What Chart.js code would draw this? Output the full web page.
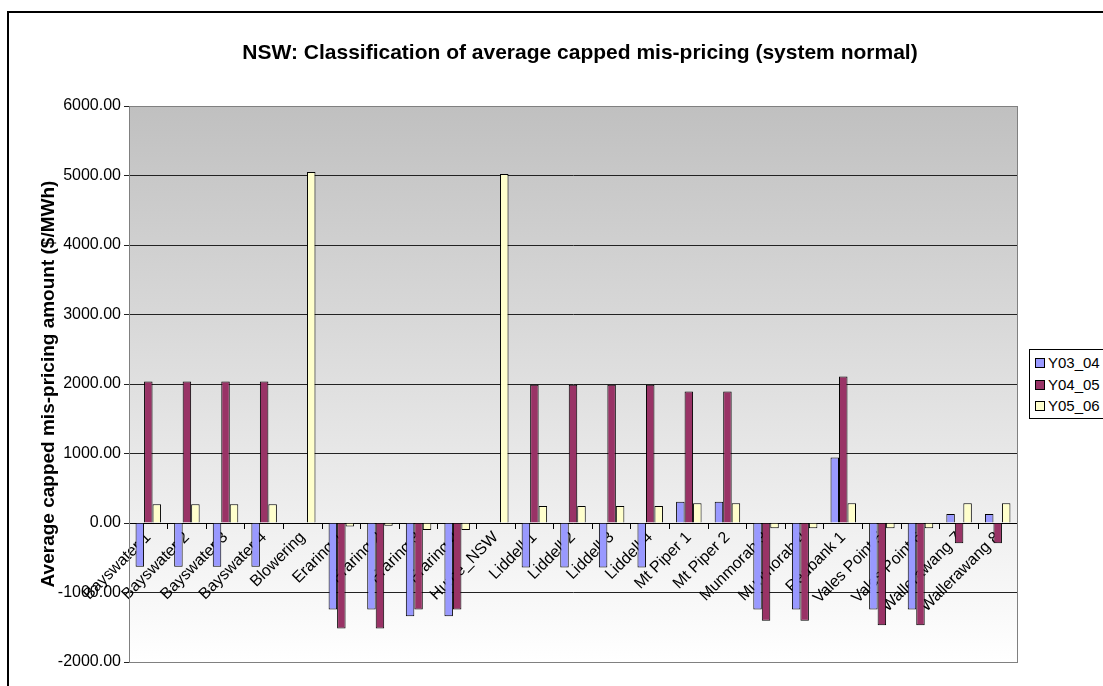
<!DOCTYPE html>
<html>
<head>
<meta charset="utf-8">
<script src="https://cdn.jsdelivr.net/npm/chart.js@4"></script>
<style>
    body { margin: 0; width: 1103px; height: 686px; overflow: hidden; background: #fff; font-family: "Liberation Sans", Arial, sans-serif; }
    #heading { position: absolute; left: 153px; top: -33px; font-size: 30px; font-weight: bold; white-space: nowrap; }
    #frame { position: absolute; left: 7px; top: 11px; width: 1200px; height: 800px; border: 2px solid #000; }
    #chart { position: absolute; left: 0; top: 0; }
    #title { position: absolute; left: 0; width: 1160px; top: 40px; text-align: center; font-size: 21px; font-weight: bold; }
    #legend { position: absolute; left: 1029px; top: 349px; width: 100px; height: 68px; border: 1px solid #000; background: #fff; font-size: 15px; }
    #legend div { position: absolute; left: 5px; height: 17px; line-height: 17px; white-space: nowrap; }
    #legend span { display: inline-block; width: 8px; height: 8px; border: 1px solid #000; margin-right: 3px; vertical-align: 0; }
</style>
</head>
<body>
<div id="heading">Mis-Pricing Analysis</div>
<div id="frame"></div>
<canvas id="chart" width="1103" height="686"></canvas>
<div id="title">NSW: Classification of average capped mis-pricing (system normal)</div>
<div id="legend"></div>
<script>
var units = ['Bayswater 1', 'Bayswater 2', 'Bayswater 3', 'Bayswater 4', 'Blowering',
    'Eraring 1', 'Eraring 2', 'Eraring 3', 'Eraring 4', 'Hume_NSW',
    'Liddell 1', 'Liddell 2', 'Liddell 3', 'Liddell 4', 'Mt Piper 1', 'Mt Piper 2',
    'Munmorah 3', 'Munmorah 4', 'Redbank 1', 'Vales Point 5', 'Vales Point 6',
    'Wallerawang 7', 'Wallerawang 8'];

var seriesNames = ['Y03_04', 'Y04_05', 'Y05_06'];

var y03_04 = [-630, -630, -630, -630, null, -1244, -1244, -1340, -1340, null,
    -640, -640, -640, -640, 307, 307, -1244, -1244, 941, -1244, -1244, 130, 130];
var y04_05 = [2036, 2036, 2036, 2036, null, -1518, -1518, -1244, -1244, null,
    1988, 1988, 1988, 1988, 1892, 1892, -1407, -1407, 2108, -1470, -1470, -293, -293];
var y05_06 = [270, 270, 270, 270, 5050, -50, -40, -100, -100, 5020,
    245, 245, 245, 245, 283, 283, -77, -77, 283, -77, -77, 283, 283];

var colors = ['#9999FF', '#993366', '#FFFFCC'];

Chart.defaults.font.family = '"Liberation Sans", Arial, sans-serif';
Chart.defaults.color = '#000';

// grey-to-white plot background and grey plot border
var plotArea = {
    id: 'plotArea',
    beforeDraw: function(chart) {
        var a = chart.chartArea;
        var ctx = chart.ctx;
        var g = ctx.createLinearGradient(0, a.top, 0, a.bottom);
        g.addColorStop(0, '#c0c0c0');
        g.addColorStop(1, '#ffffff');
        ctx.save();
        ctx.fillStyle = g;
        ctx.fillRect(a.left, a.top, a.right - a.left, a.bottom - a.top);
        ctx.restore();
    },
    afterDraw: function(chart) {
        var a = chart.chartArea;
        var ctx = chart.ctx;
        ctx.save();
        ctx.strokeStyle = '#808080';
        ctx.lineWidth = 1;
        ctx.strokeRect(Math.round(a.left) + 0.5, Math.round(a.top) + 0.5,
            Math.round(a.right - a.left), Math.round(a.bottom - a.top));
        ctx.restore();
    }
};

var allSeries = [y03_04, y04_05, y05_06];
var datasets = [];
for (var i = 0; i < seriesNames.length; i++) {
    datasets.push({
        label: seriesNames[i],
        data: allSeries[i],
        backgroundColor: colors[i],
        borderColor: '#000',
        borderWidth: 1,
        categoryPercentage: 0.66,
        barPercentage: 1.0
    });
}

new Chart(document.getElementById('chart'), {
    type: 'bar',
    data: { labels: units, datasets: datasets },
    plugins: [plotArea],
    options: {
        responsive: false,
        animation: false,
        layout: { padding: { top: 106, bottom: 24, right: 86, left: 0 } },
        plugins: {
            legend: { display: false },
            tooltip: { enabled: false }
        },
        scales: {
            x: {
                position: { y: 0 },
                grid: { drawOnChartArea: false, drawTicks: true, tickLength: 5, color: '#000', offset: true },
                border: { display: true, color: '#000', width: 1 },
                ticks: {
                    autoSkip: false,
                    minRotation: 45,
                    maxRotation: 45,
                    padding: 0,
                    font: { size: 16 },
                    color: '#000'
                }
            },
            y: {
                min: -2000,
                max: 6000,
                afterFit: function(scale) { scale.width = 129; },
                ticks: {
                    stepSize: 1000,
                    padding: 3,
                    font: { size: 16 },
                    color: '#000',
                    callback: function(v) { return v.toFixed(2); }
                },
                grid: { color: '#222', tickLength: 5 },
                border: { color: '#808080' },
                title: {
                    display: true,
                    text: 'Average capped mis-pricing amount ($/MWh)',
                    font: { size: 19, weight: 'bold' },
                    color: '#000',
                    padding: { top: 37, bottom: 0 }
                }
            }
        }
    }
});

var legend = document.getElementById('legend');
for (var k = 0; k < seriesNames.length; k++) {
    var row = document.createElement('div');
    row.style.top = (4 + k * 21.5) + 'px';
    row.innerHTML = '<span style="background:' + colors[k] + '"></span>' + seriesNames[k];
    legend.appendChild(row);
}
</script>
</body>
</html>
